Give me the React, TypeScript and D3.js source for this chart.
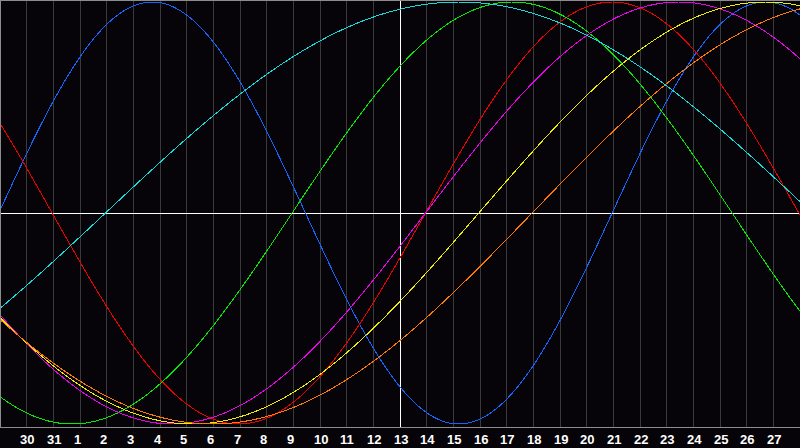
import React, { useEffect } from "react";
import * as d3 from "d3";

// Day-of-month labels for the grid lines (grid index 1..29)
const dayLabels = ["30", "31", "1", "2", "3", "4", "5", "6", "7", "8", "9", "10", "11", "12", "13", "14", "15", "16", "17", "18", "19", "20", "21", "22", "23", "24", "25", "26", "27"];
// Biorhythm cycles
const cycleNames = ["Physical", "Emotional", "Intellectual", "Intuitive", "Aesthetic", "Awareness", "Spiritual"];
const cyclePeriods = [23, 28, 33, 38, 43, 48, 53];
const cycleColors = ["#1466ff", "#ee0000", "#00ee00", "#ee00ee", "#eeee00", "#ff7a00", "#11dddd"];
// days since birth at the left edge of the chart
const daysSinceBirthAtStart = 31372;
const daysShown = 30;
const centerDayIndex = 15;

const W = 800;
const H = 448;
const plotBottom = 427;

export default function App() {
  useEffect(() => {
    document.body.style.margin = "0";
    document.body.style.background = "#060408";
  }, []);

  const x = d3.scaleLinear().domain([0, daysShown]).range([0, W]);
  const y = d3.scaleLinear().domain([-1, 1]).range([424, 2]);

  const samples = d3.range(0, daysShown + 0.1, 0.02);

  const paths = cyclePeriods.map((p, i) => {
    const gen = d3
      .line<number>()
      .x((u) => x(u) - 1.2)
      .y((u) => y(Math.sin((2 * Math.PI * (daysSinceBirthAtStart + u)) / p)));
    return { name: cycleNames[i], color: cycleColors[i], d: gen(samples) || "" };
  });

  const gridIdx = d3.range(1, daysShown);
  const cy = Math.floor(y(0)) + 0.5;

  return (
    <svg width={W} height={H} style={{ display: "block", background: "#060408" }}>
      <rect x={0} y={0} width={W} height={H} fill="#060408" />
      {gridIdx.map((i) => (
        <line
          key={"g" + i}
          x1={Math.floor(x(i)) + 0.5}
          x2={Math.floor(x(i)) + 0.5}
          y1={0}
          y2={plotBottom}
          stroke={i === centerDayIndex ? "#ffffff" : "#3a3a3a"}
          strokeWidth={1}
          shapeRendering="crispEdges"
        />
      ))}
      <line x1={0} x2={W} y1={cy} y2={cy} stroke="#ffffff" strokeWidth={1} shapeRendering="crispEdges" />
      {paths.map((p) => (
        <path key={p.name} d={p.d} fill="none" stroke={p.color} strokeWidth={1} shapeRendering="crispEdges">
          <title>{p.name}</title>
        </path>
      ))}
      {/* frame */}
      <line x1={0.5} x2={0.5} y1={0} y2={plotBottom} stroke="#8c8c8c" shapeRendering="crispEdges" />
      <line x1={0} x2={W} y1={0.5} y2={0.5} stroke="#8c8c8c" shapeRendering="crispEdges" />
      <line x1={0} x2={W} y1={plotBottom + 0.5} y2={plotBottom + 0.5} stroke="#8c8c8c" shapeRendering="crispEdges" />
      {gridIdx.map((i) => (
        <text
          key={"t" + i}
          x={Math.floor(x(i)) - 6}
          y={443.5}
          fill="#ffffff"
          fontFamily="'Liberation Sans', Arial, sans-serif"
          fontWeight="bold"
          fontSize={13}
        >
          {dayLabels[i - 1]}
        </text>
      ))}
    </svg>
  );
}
